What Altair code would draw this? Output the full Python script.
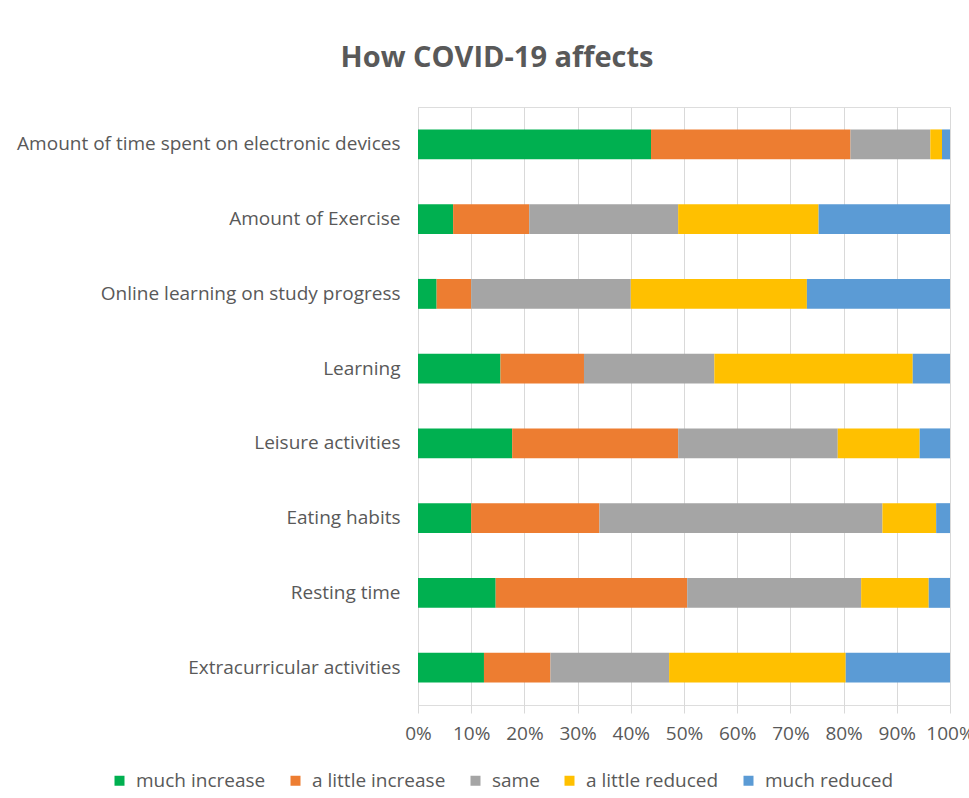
import altair as alt
import pandas as pd

categories = [
    "Amount of time spent on electronic devices",
    "Amount of Exercise",
    "Online learning on study progress",
    "Learning",
    "Leisure activities",
    "Eating habits",
    "Resting time",
    "Extracurricular activities",
]
responses = ["much increase", "a little increase", "same", "a little reduced", "much reduced"]
colors = ["#00b050", "#ed7d31", "#a5a5a5", "#ffc000", "#5b9bd5"]

much_increase = [43.8, 6.6, 3.5, 15.5, 17.7, 10.0, 14.6, 12.4]
little_increase = [37.5, 14.3, 6.5, 15.7, 31.2, 24.1, 36.0, 12.5]
same = [15.0, 28.0, 30.0, 24.5, 30.0, 53.2, 32.7, 22.3]
little_reduced = [2.2, 26.4, 33.1, 37.3, 15.4, 10.1, 12.7, 33.2]
much_reduced = [1.5, 24.7, 26.9, 7.0, 5.7, 2.6, 4.0, 19.6]

series = [much_increase, little_increase, same, little_reduced, much_reduced]
rows = []
for r_i, (resp, vals) in enumerate(zip(responses, series)):
    for cat, v in zip(categories, vals):
        rows.append({"category": cat, "response": resp, "value": v, "order": r_i})
df = pd.DataFrame(rows)

FONT = "Open Sans"
TXT = "#595959"

chart = (
    alt.Chart(df)
    .mark_bar()
    .encode(
        y=alt.Y(
            "category:N",
            sort=categories,
            scale=alt.Scale(paddingInner=0.6, paddingOuter=0.3),
            axis=alt.Axis(
                title=None, ticks=False, domain=False, labelPadding=18,
                labelFontSize=19, labelColor=TXT, labelFont=FONT, labelLimit=500,
                grid=False,
            ),
        ),
        x=alt.X(
            "value:Q",
            stack="normalize",
            scale=alt.Scale(domain=[0, 1]),
            axis=alt.Axis(
                title=None, format=".0%", values=[i / 10 for i in range(11)],
                domain=False, ticks=True, tickSize=8, tickColor="#d9d9d9",
                grid=True, gridColor="#d9d9d9", labelPadding=11,
                labelOverlap=False, labelFlush=False,
                labelFontSize=19, labelColor=TXT, labelFont=FONT,
            ),
        ),
        color=alt.Color(
            "response:N",
            sort=responses,
            scale=alt.Scale(domain=responses, range=colors),
            legend=alt.Legend(
                title=None, orient="none", direction="horizontal",
                legendX=-308, legendY=664, symbolType="square", symbolSize=100,
                symbolStrokeWidth=0, labelFontSize=19, labelColor=TXT, labelFont=FONT,
                columnPadding=20, labelOffset=7, labelLimit=300,
            ),
        ),
        order=alt.Order("order:Q", sort="ascending"),
    )
    .properties(
        width=532,
        height=598,
        title=alt.TitleParams(
            "How COVID-19 affects", font=FONT, fontSize=29, fontWeight="bold",
            color=TXT, anchor="middle", dx=-187, offset=34,
        ),
        autosize=alt.AutoSizeParams(type="none"),
        padding={"left": 418, "top": 107, "right": 19, "bottom": 93},
    )
    .configure_view(stroke=None)
    .configure(background="white")
)

chart.save("out.html", embed_options={"renderer": "svg", "actions": False})
